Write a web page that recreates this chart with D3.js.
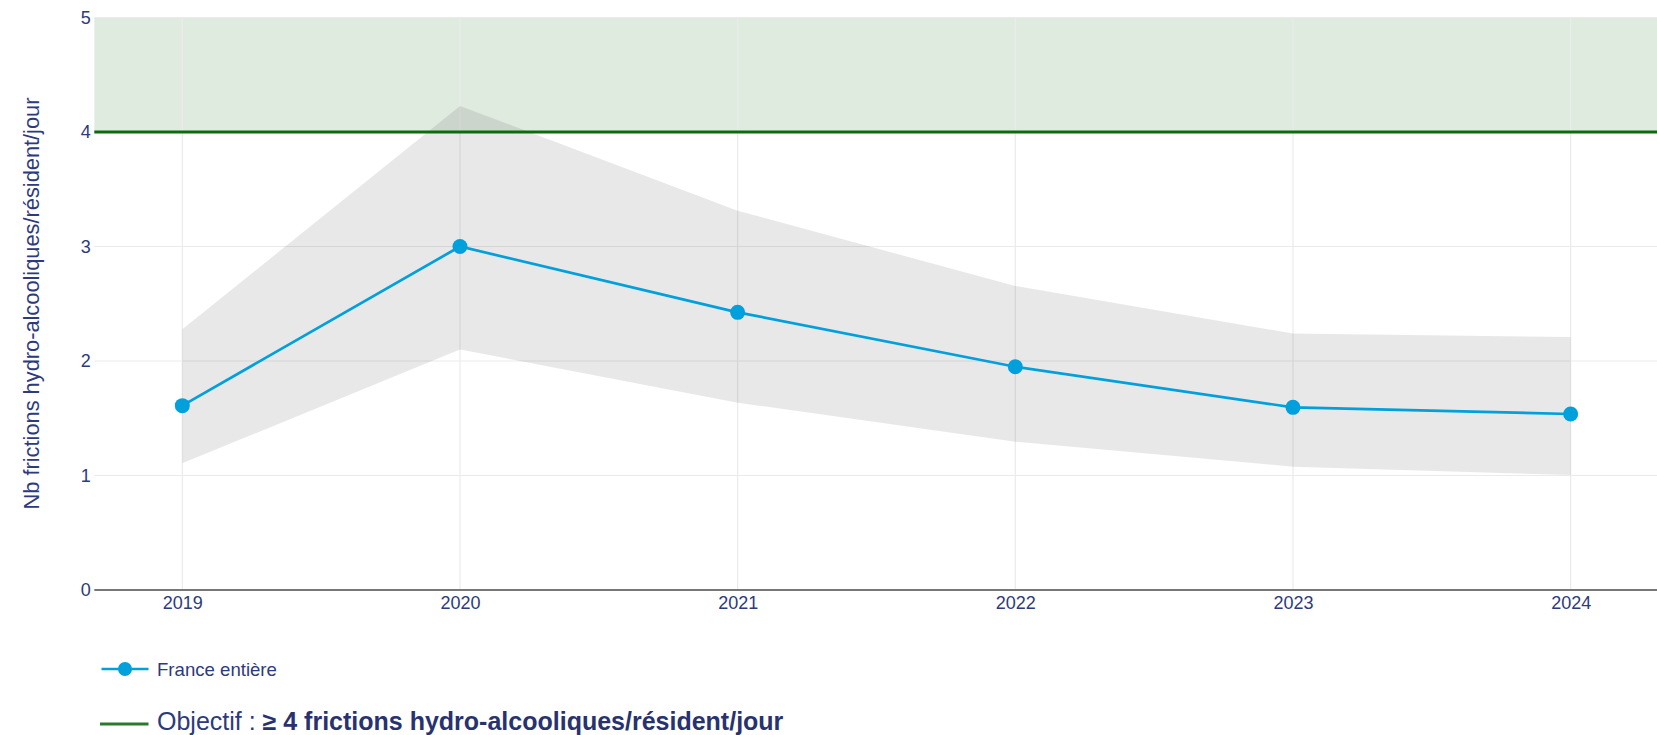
<!DOCTYPE html>
<html>
<head>
<meta charset="utf-8">
<script src="https://cdn.jsdelivr.net/npm/d3@7"></script>
<style>
  html, body { margin: 0; padding: 0; background: #fff; }
  svg { display: block; }
  text { font-family: "Liberation Sans", Arial, sans-serif; }
</style>
</head>
<body>
<svg id="chart" width="1657" height="735"></svg>
<script>
// ---- Data ----
const years = [2019, 2020, 2021, 2022, 2023, 2024];
const valuesFrance = [1.61, 3.00, 2.425, 1.95, 1.595, 1.537];
const upperBound = [2.277, 4.227, 3.313, 2.655, 2.24, 2.21];
const lowerBound = [1.107, 2.10, 1.636, 1.295, 1.077, 1.004];
const yTicks = [0, 1, 2, 3, 4, 5];
const objectiveValue = 4;
const objectiveMax = 5;
const seriesName = "France entière";
const yTitle = "Nb frictions hydro-alcooliques/résident/jour";
const objectivePrefix = "Objectif : ";
const objectiveBold = "≥ 4 frictions hydro-alcooliques/résident/jour";

// ---- Layout ----
const svg = d3.select("#chart");
const plotLeft = 94.3, plotRight = 1657, plotTop = 17.5, plotBottom = 590;
const textColor = "#2d3a7c";
const blue = "#00a0dd";
const green = "#0d6b0d";

const x = d3.scaleLinear().domain([2018.683, 2024.311]).range([plotLeft, plotRight]);
const y = d3.scaleLinear().domain([0, 5]).range([plotBottom, plotTop]);

// Objective zone (green band)
svg.append("rect")
  .attr("x", plotLeft).attr("y", y(objectiveMax))
  .attr("width", plotRight - plotLeft).attr("height", y(objectiveValue) - y(objectiveMax))
  .attr("fill", "#e0ebe0");

// Gridlines
const grid = svg.append("g");
grid.selectAll("line.h").data(yTicks.filter(d => d > 0)).join("line")
  .attr("x1", plotLeft).attr("x2", plotRight)
  .attr("y1", d => y(d)).attr("y2", d => y(d))
  .attr("stroke", "#ebebeb").attr("stroke-width", 1.2);
grid.selectAll("line.v").data(years).join("line")
  .attr("x1", d => x(d)).attr("x2", d => x(d))
  .attr("y1", plotTop).attr("y2", plotBottom)
  .attr("stroke", "#ebebeb").attr("stroke-width", 1.2);

// Confidence band
const band = years.map((yr, i) => ({ yr, lo: lowerBound[i], hi: upperBound[i] }));
svg.append("path").datum(band)
  .attr("d", d3.area().x(d => x(d.yr)).y0(d => y(d.lo)).y1(d => y(d.hi)))
  .attr("fill", "rgba(0,0,0,0.09)");

// Objective line
svg.append("line")
  .attr("x1", plotLeft).attr("x2", plotRight)
  .attr("y1", y(objectiveValue)).attr("y2", y(objectiveValue))
  .attr("stroke", green).attr("stroke-width", 3.2);

// Bottom axis line
svg.append("line")
  .attr("x1", plotLeft).attr("x2", plotRight)
  .attr("y1", plotBottom).attr("y2", plotBottom)
  .attr("stroke", "#777").attr("stroke-width", 2);

// Series line
const pts = years.map((yr, i) => ({ yr, v: valuesFrance[i] }));
svg.append("path").datum(pts)
  .attr("d", d3.line().x(d => x(d.yr)).y(d => y(d.v)))
  .attr("fill", "none").attr("stroke", blue).attr("stroke-width", 2.7);
svg.selectAll("circle.pt").data(pts).join("circle")
  .attr("cx", d => x(d.yr)).attr("cy", d => y(d.v)).attr("r", 7.5)
  .attr("fill", blue);

// Axes tick labels via d3 axes
const yAxis = d3.axisLeft(y).tickValues(yTicks).tickSize(0).tickPadding(3).tickFormat(d3.format("d"));
const gy = svg.append("g").attr("transform", `translate(${plotLeft - 0.5},0)`).call(yAxis);
gy.select(".domain").remove();
gy.selectAll("text").attr("font-size", 18).attr("fill", textColor)
  .attr("font-family", '"Liberation Sans", Arial, sans-serif');

const xAxis = d3.axisBottom(x).tickValues(years).tickSize(0).tickPadding(6).tickFormat(d3.format("d"));
const gx = svg.append("g").attr("transform", `translate(0,${plotBottom})`).call(xAxis);
gx.select(".domain").remove();
gx.selectAll("text").attr("font-size", 18).attr("fill", textColor)
  .attr("font-family", '"Liberation Sans", Arial, sans-serif');

// Y title
svg.append("text")
  .attr("transform", `translate(38.5,303.5) rotate(-90)`)
  .attr("text-anchor", "middle")
  .attr("font-size", 21.8).attr("fill", textColor)
  .text(yTitle);

// Legend 1
const lg1 = svg.append("g");
lg1.append("line").attr("x1", 101.5).attr("x2", 148.5).attr("y1", 669).attr("y2", 669)
  .attr("stroke", blue).attr("stroke-width", 2.7);
lg1.append("circle").attr("cx", 125).attr("cy", 669).attr("r", 7).attr("fill", blue);
lg1.append("text").attr("x", 157).attr("y", 676).attr("font-size", 18.6).attr("fill", textColor)
  .text(seriesName);

// Legend 2 (objective)
const lg2 = svg.append("g");
lg2.append("line").attr("x1", 100).attr("x2", 148.5).attr("y1", 724).attr("y2", 724)
  .attr("stroke", "#2a7a2a").attr("stroke-width", 3.2);
const t2 = lg2.append("text").attr("x", 157).attr("y", 729.5).attr("font-size", 25).attr("fill", textColor);
t2.append("tspan").text(objectivePrefix);
t2.append("tspan").attr("font-weight", "bold").attr("fill", "#27326f").text(objectiveBold);
</script>
</body>
</html>
